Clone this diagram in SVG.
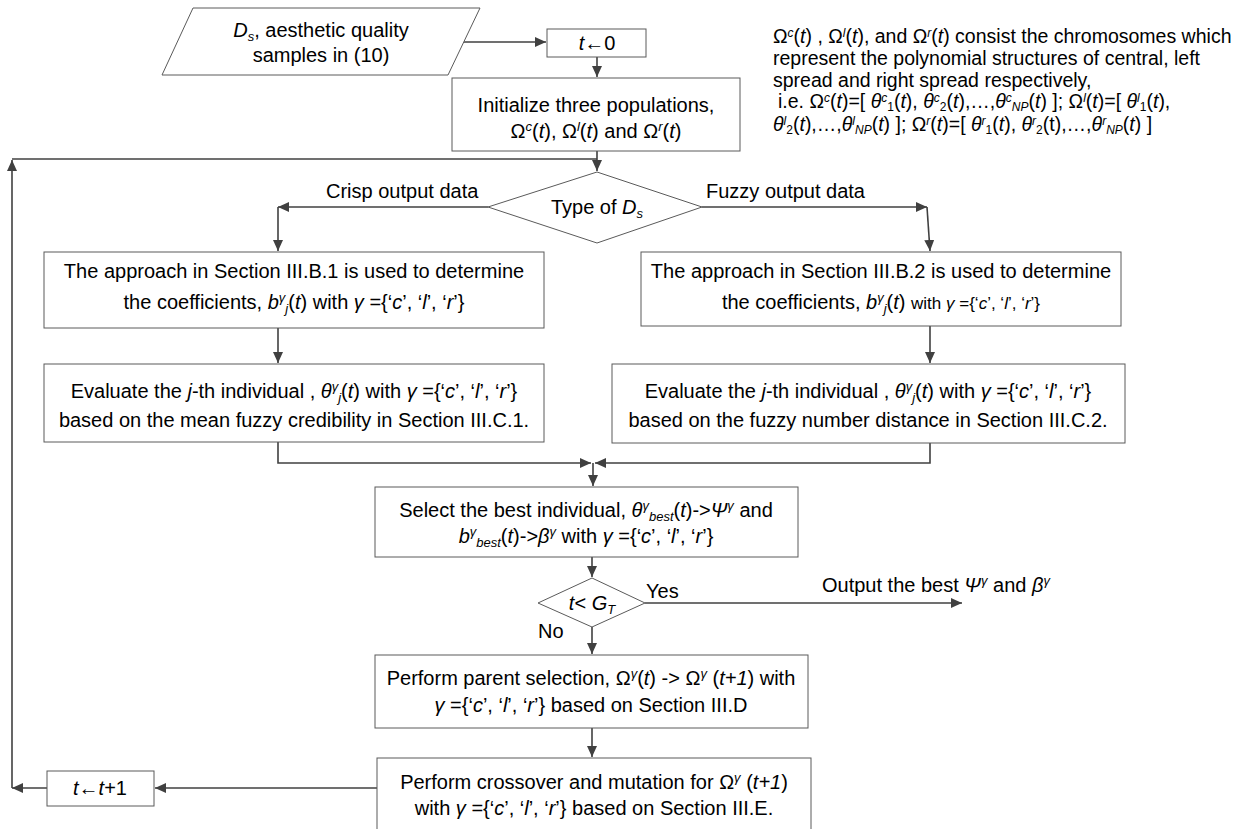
<svg xmlns="http://www.w3.org/2000/svg" width="1255" height="829" viewBox="0 0 1255 829">
<style>
.t{font-family:"Liberation Sans",Arial,sans-serif;font-size:20px;fill:#000}
.a{font-family:"Liberation Sans",Arial,sans-serif;font-size:19.5px;fill:#000}
.m{text-anchor:middle}
.i{font-style:italic}
.sp{font-size:13px;baseline-shift:7px}
.sb{font-size:13px;baseline-shift:-4px}
.ap{font-size:12px;baseline-shift:6px}
.ab{font-size:12px;baseline-shift:-3px}
.sm{font-size:17px}
.b{fill:#fff;stroke:#5a5a5a;stroke-width:1}
.c{stroke:#404040;stroke-width:1.6;fill:none}
</style>
<defs>
<marker id="ah" markerUnits="userSpaceOnUse" markerWidth="12" markerHeight="10" refX="11" refY="5" orient="auto">
<path d="M0,0 L11,5 L0,10 z" fill="#404040"/>
</marker>
</defs>
<rect width="1255" height="829" fill="#fff"/>

<g id="connectors">
<path class="c" d="M463,42 H546" marker-end="url(#ah)"/>
<path class="c" d="M597,57 V77" marker-end="url(#ah)"/>
<path class="c" d="M597,151 V171" marker-end="url(#ah)"/>
<path class="c" d="M12,159 H597"/>
<path class="c" d="M488,207 H278" marker-end="url(#ah)"/>
<path class="c" d="M278,207 V251" marker-end="url(#ah)"/>
<path class="c" d="M702,207 H927" marker-end="url(#ah)"/>
<path class="c" d="M927,207 L930,251" marker-end="url(#ah)"/>
<path class="c" d="M278,328 V363" marker-end="url(#ah)"/>
<path class="c" d="M930,326 V363" marker-end="url(#ah)"/>
<path class="c" d="M278,442 V463 H591" marker-end="url(#ah)"/>
<path class="c" d="M930,443 V463 H595" marker-end="url(#ah)"/>
<path class="c" d="M593,463 V486" marker-end="url(#ah)"/>
<path class="c" d="M592,557 V577" marker-end="url(#ah)"/>
<path class="c" d="M645,603 H962" marker-end="url(#ah)"/>
<path class="c" d="M592,627 V654" marker-end="url(#ah)"/>
<path class="c" d="M592,728 V757" marker-end="url(#ah)"/>
<path class="c" d="M377,788 H155" marker-end="url(#ah)"/>
<path class="c" d="M47,788 H12" marker-end="url(#ah)"/>
<path class="c" d="M12,788 V160" marker-end="url(#ah)"/>
</g>

<g id="input">
<polygon class="b" points="193,8 480,8 448,75 162,75"/>
<text class="t m" x="321" y="37"><tspan class="i">D</tspan><tspan class="sb i">s</tspan>, aesthetic quality</text>
<text class="t m" x="321" y="62">samples in (10)</text>
</g>

<g id="init-t">
<rect class="b" x="547" y="29" width="99" height="28"/>
<text class="t m" x="597" y="50"><tspan class="i">t</tspan>←0</text>
</g>

<g id="init-pop">
<rect class="b" x="452" y="78" width="288" height="73"/>
<text class="t m" x="596" y="112">Initialize three populations,</text>
<text class="t m" x="596" y="138">Ω<tspan class="sp i">c</tspan>(<tspan class="i">t</tspan>),  Ω<tspan class="sp i">l</tspan>(<tspan class="i">t</tspan>) and  Ω<tspan class="sp i">r</tspan>(<tspan class="i">t</tspan>)</text>
</g>

<g id="note">
<text class="a" x="773" y="43">Ω<tspan class="ap i">c</tspan>(<tspan class="i">t</tspan>) , Ω<tspan class="ap i">l</tspan>(<tspan class="i">t</tspan>), and Ω<tspan class="ap i">r</tspan>(<tspan class="i">t</tspan>) consist the chromosomes which</text>
<text class="a" x="773" y="65">represent the polynomial structures of central, left</text>
<text class="a" x="773" y="87">spread and right spread respectively,</text>
<text class="a" x="778" y="108">i.e. Ω<tspan class="ap i">c</tspan>(<tspan class="i">t</tspan>)=[ <tspan class="i">θ</tspan><tspan class="ap i">c</tspan><tspan class="ab">1</tspan>(<tspan class="i">t</tspan>), <tspan class="i">θ</tspan><tspan class="ap i">c</tspan><tspan class="ab">2</tspan>(<tspan class="i">t</tspan>),…,<tspan class="i">θ</tspan><tspan class="ap i">c</tspan><tspan class="ab i">NP</tspan>(<tspan class="i">t</tspan>) ]; Ω<tspan class="ap i">l</tspan>(<tspan class="i">t</tspan>)=[ <tspan class="i">θ</tspan><tspan class="ap i">l</tspan><tspan class="ab">1</tspan>(<tspan class="i">t</tspan>),</text>
<text class="a" x="773" y="131"><tspan class="i">θ</tspan><tspan class="ap i">l</tspan><tspan class="ab">2</tspan>(<tspan class="i">t</tspan>),…,<tspan class="i">θ</tspan><tspan class="ap i">l</tspan><tspan class="ab i">NP</tspan>(<tspan class="i">t</tspan>) ]; Ω<tspan class="ap i">r</tspan>(<tspan class="i">t</tspan>)=[ <tspan class="i">θ</tspan><tspan class="ap i">r</tspan><tspan class="ab">1</tspan>(<tspan class="i">t</tspan>), <tspan class="i">θ</tspan><tspan class="ap i">r</tspan><tspan class="ab">2</tspan>(t),…,<tspan class="i">θ</tspan><tspan class="ap i">r</tspan><tspan class="ab i">NP</tspan>(<tspan class="i">t</tspan>) ]</text>
</g>

<g id="type-decision">
<polygon class="b" points="597,172 702,207 597,243 488,207"/>
<text class="t m" x="597" y="214">Type of <tspan class="i">D</tspan><tspan class="sb i">s</tspan></text>
</g>
<g id="labels">
<text class="t" x="326" y="198">Crisp output data</text>
<text class="t" x="706" y="198">Fuzzy output data</text>
<text class="t" x="646" y="598">Yes</text>
<text class="t" x="538" y="638">No</text>
<text class="t" x="822" y="592">Output the best <tspan class="i">Ψ</tspan><tspan class="sp i">γ</tspan> and <tspan class="i">β</tspan><tspan class="sp i">γ</tspan></text>
</g>

<g id="crisp-coef">
<rect class="b" x="44" y="252" width="500" height="76"/>
<text class="t m" x="294" y="278">The approach in Section III.B.1 is used to determine</text>
<text class="t m" x="294" y="309">the coefficients, <tspan class="i">b</tspan><tspan class="sp i">γ</tspan><tspan class="sb i">j</tspan>(<tspan class="i">t</tspan>) with <tspan class="i">γ</tspan> ={‘<tspan class="i">c</tspan>’, ‘<tspan class="i">l</tspan>’, ‘<tspan class="i">r</tspan>’}</text>
</g>

<g id="fuzzy-coef">
<rect class="b" x="641" y="252" width="480" height="74"/>
<text class="t m" x="881" y="278">The approach in Section III.B.2 is used to determine</text>
<text class="t m" x="881" y="309">the coefficients, <tspan class="i">b</tspan><tspan class="sp i">γ</tspan><tspan class="sb i">j</tspan>(<tspan class="i">t</tspan>) <tspan class="sm">with <tspan class="i">γ</tspan> ={‘<tspan class="i">c</tspan>’, ‘<tspan class="i">l</tspan>’, ‘<tspan class="i">r</tspan>’}</tspan></text>
</g>

<g id="crisp-eval">
<rect class="b" x="44" y="364" width="500" height="78"/>
<text class="t m" x="294" y="398">Evaluate the <tspan class="i">j</tspan>-th individual , <tspan class="i">θ</tspan><tspan class="sp i">γ</tspan><tspan class="sb i">j</tspan>(<tspan class="i">t</tspan>) with <tspan class="i">γ</tspan> ={‘<tspan class="i">c</tspan>’, ‘<tspan class="i">l</tspan>’, ‘<tspan class="i">r</tspan>’}</text>
<text class="t m" x="294" y="427">based on the mean fuzzy credibility in Section III.C.1.</text>
</g>

<g id="fuzzy-eval">
<rect class="b" x="612" y="364" width="513" height="79"/>
<text class="t m" x="868" y="398">Evaluate the <tspan class="i">j</tspan>-th individual , <tspan class="i">θ</tspan><tspan class="sp i">γ</tspan><tspan class="sb i">j</tspan>(<tspan class="i">t</tspan>) with <tspan class="i">γ</tspan> ={‘<tspan class="i">c</tspan>’, ‘<tspan class="i">l</tspan>’, ‘<tspan class="i">r</tspan>’}</text>
<text class="t m" x="868" y="427">based on the fuzzy number distance in Section III.C.2.</text>
</g>

<g id="select-best">
<rect class="b" x="375" y="487" width="423" height="70"/>
<text class="t m" x="586" y="517">Select the best individual, <tspan class="i">θ</tspan><tspan class="sp i">γ</tspan><tspan class="sb i">best</tspan>(<tspan class="i">t</tspan>)-&gt;<tspan class="i">Ψ</tspan><tspan class="sp i">γ</tspan> and</text>
<text class="t m" x="586" y="543"><tspan class="i">b</tspan><tspan class="sp i">γ</tspan><tspan class="sb i">best</tspan>(<tspan class="i">t</tspan>)-&gt;<tspan class="i">β</tspan><tspan class="sp i">γ</tspan> with <tspan class="i">γ</tspan> ={‘<tspan class="i">c</tspan>’, ‘<tspan class="i">l</tspan>’, ‘<tspan class="i">r</tspan>’}</text>
</g>

<g id="gen-decision">
<polygon class="b" points="592,578 645,603 592,627 538,603"/>
<text class="t m" x="592" y="610"><tspan class="i">t</tspan>&lt; <tspan class="i">G</tspan><tspan class="sb i">T</tspan></text>
</g>

<g id="parent-selection">
<rect class="b" x="375" y="655" width="433" height="73"/>
<text class="t m" x="591" y="685">Perform parent selection, Ω<tspan class="sp i">γ</tspan>(<tspan class="i">t</tspan>) -&gt; Ω<tspan class="sp i">γ</tspan> (<tspan class="i">t+1</tspan>) with</text>
<text class="t m" x="591" y="712"><tspan class="i">γ</tspan> ={‘<tspan class="i">c</tspan>’, ‘<tspan class="i">l</tspan>’, ‘<tspan class="i">r</tspan>’} based on Section III.D</text>
</g>

<g id="crossover">
<rect class="b" x="377" y="758" width="434" height="80"/>
<text class="t m" x="594" y="789">Perform crossover and mutation for Ω<tspan class="sp i">γ</tspan> (<tspan class="i">t+1</tspan>)</text>
<text class="t m" x="594" y="815">with <tspan class="i">γ</tspan> ={‘<tspan class="i">c</tspan>’, ‘<tspan class="i">l</tspan>’, ‘<tspan class="i">r</tspan>’} based on Section III.E.</text>
</g>

<g id="increment">
<rect class="b" x="47" y="771" width="107" height="35"/>
<text class="t m" x="100" y="795"><tspan class="i">t</tspan>←<tspan class="i">t</tspan>+1</text>
</g>
</svg>
